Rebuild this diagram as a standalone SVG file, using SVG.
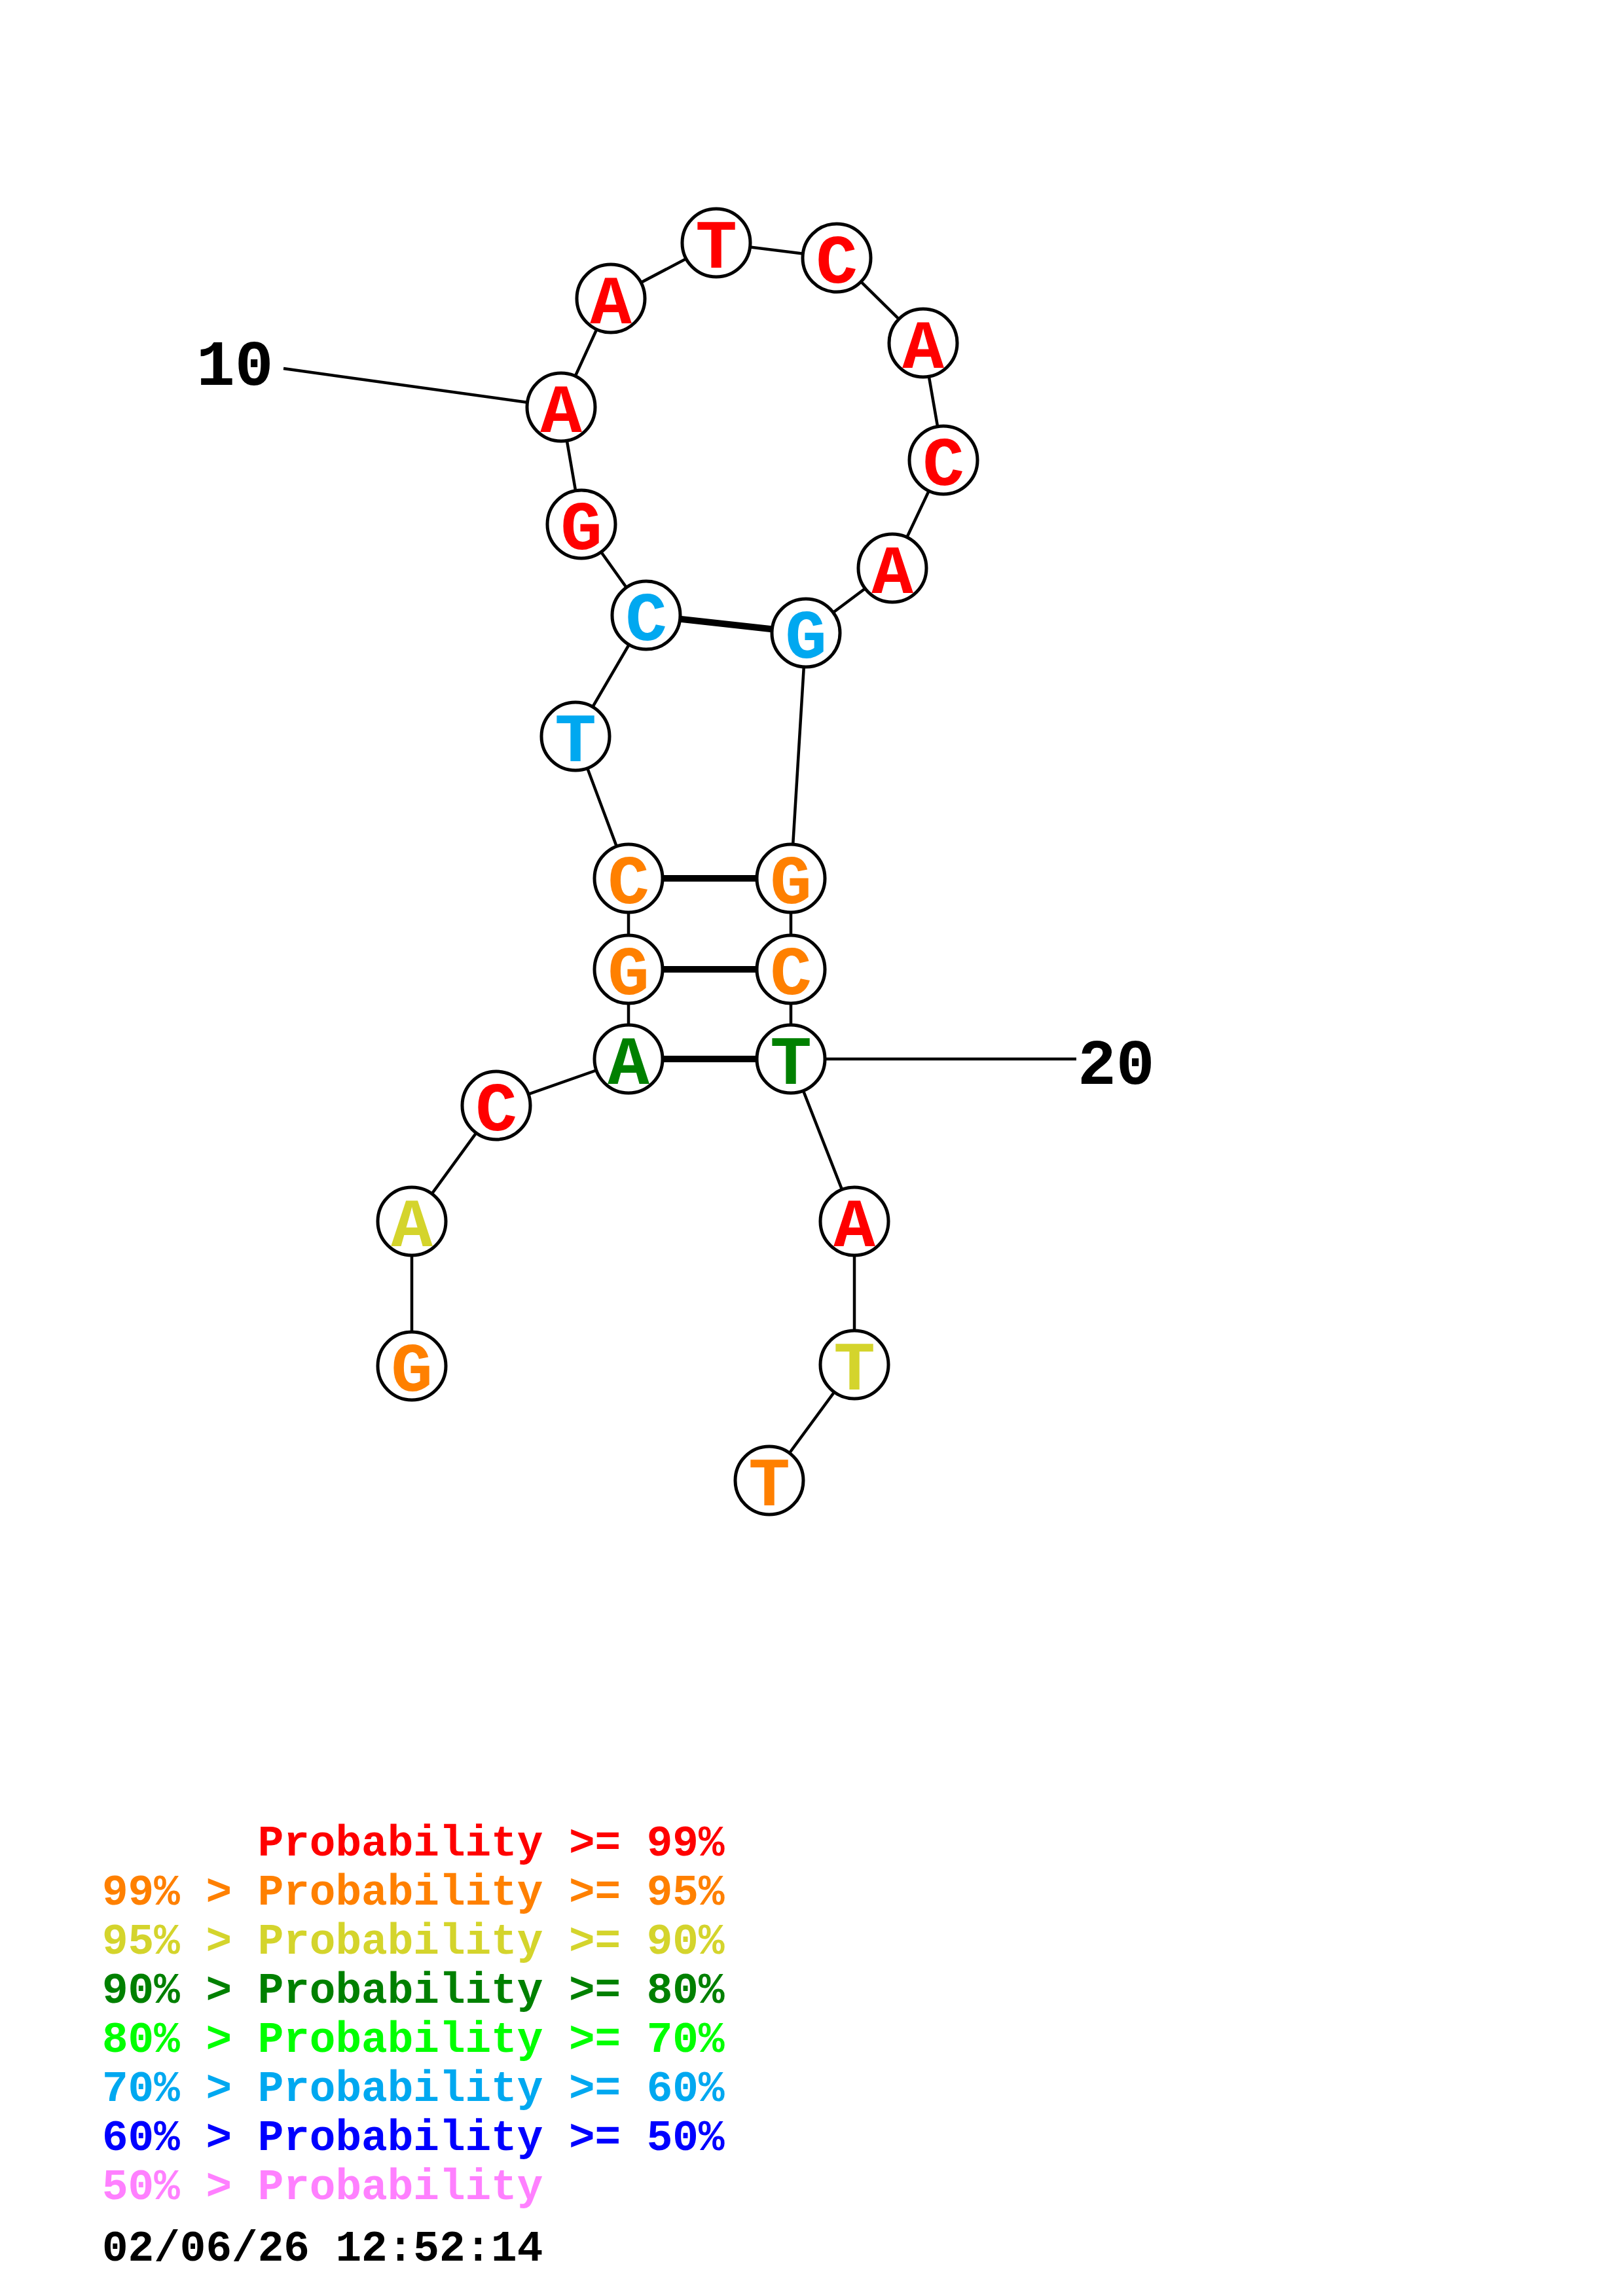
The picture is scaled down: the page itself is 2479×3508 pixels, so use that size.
<svg xmlns="http://www.w3.org/2000/svg" width="2479" height="3508" viewBox="0 0 2479 3508">
<style>
.bb{stroke:#000;stroke-width:4.5;fill:none}
.bp{stroke:#000;stroke-width:10;fill:none}
.n{fill:#fff;stroke:#000;stroke-width:5}
.l{font-family:"Liberation Mono","Courier New",monospace;font-weight:bold;font-size:106px;text-anchor:middle}
.num{font-family:"Liberation Mono","Courier New",monospace;font-weight:bold;font-size:98px;fill:#000}
.lg{font-family:"Liberation Mono","Courier New",monospace;font-weight:bold;font-size:66px;white-space:pre}
.r{fill:#ff0000}.o{fill:#ff8000}.y{fill:#d4d42c}.g{fill:#008000}.lb{fill:#00a8f0}.gb{fill:#00ff00}.b{fill:#0000ff}.p{fill:#ff80ff}
</style>
<rect width="2479" height="3508" fill="#fff"/>
<g id="connectors">
<polyline class="bb" points="629,2087 629,1866 758,1689 960,1618 960,1481 960,1342 879,1125 987,940 888,801 857,622 933,456 1094,371 1278,394 1410,524 1441,703 1363,868 1231,967 1208,1342 1208,1481 1208,1618 1305,1866 1305,2085 1175,2262"/>
<line class="bp" x1="987" y1="940" x2="1231" y2="967"/>
<line class="bp" x1="960" y1="1342" x2="1208" y2="1342"/>
<line class="bp" x1="960" y1="1481" x2="1208" y2="1481"/>
<line class="bp" x1="960" y1="1618" x2="1208" y2="1618"/>
<line class="bb" x1="433" y1="563" x2="857" y2="622"/>
<line class="bb" x1="1208" y1="1618" x2="1644" y2="1618"/>
</g>
<g id="labels">
<text class="num" x="300" y="588">10</text>
<text class="num" x="1646" y="1656">20</text>
</g>
<g id="n1"><circle class="n" cx="629" cy="2087" r="52"/><text class="l o" x="629" y="2125">G</text></g>
<g id="n2"><circle class="n" cx="629" cy="1866" r="52"/><text class="l y" x="629" y="1904">A</text></g>
<g id="n3"><circle class="n" cx="758" cy="1689" r="52"/><text class="l r" x="758" y="1727">C</text></g>
<g id="n4"><circle class="n" cx="960" cy="1618" r="52"/><text class="l g" x="960" y="1656">A</text></g>
<g id="n5"><circle class="n" cx="960" cy="1481" r="52"/><text class="l o" x="960" y="1519">G</text></g>
<g id="n6"><circle class="n" cx="960" cy="1342" r="52"/><text class="l o" x="960" y="1380">C</text></g>
<g id="n7"><circle class="n" cx="879" cy="1125" r="52"/><text class="l lb" x="879" y="1163">T</text></g>
<g id="n8"><circle class="n" cx="987" cy="940" r="52"/><text class="l lb" x="987" y="978">C</text></g>
<g id="n9"><circle class="n" cx="888" cy="801" r="52"/><text class="l r" x="888" y="839">G</text></g>
<g id="n10"><circle class="n" cx="857" cy="622" r="52"/><text class="l r" x="857" y="660">A</text></g>
<g id="n11"><circle class="n" cx="933" cy="456" r="52"/><text class="l r" x="933" y="494">A</text></g>
<g id="n12"><circle class="n" cx="1094" cy="371" r="52"/><text class="l r" x="1094" y="409">T</text></g>
<g id="n13"><circle class="n" cx="1278" cy="394" r="52"/><text class="l r" x="1278" y="432">C</text></g>
<g id="n14"><circle class="n" cx="1410" cy="524" r="52"/><text class="l r" x="1410" y="562">A</text></g>
<g id="n15"><circle class="n" cx="1441" cy="703" r="52"/><text class="l r" x="1441" y="741">C</text></g>
<g id="n16"><circle class="n" cx="1363" cy="868" r="52"/><text class="l r" x="1363" y="906">A</text></g>
<g id="n17"><circle class="n" cx="1231" cy="967" r="52"/><text class="l lb" x="1231" y="1005">G</text></g>
<g id="n18"><circle class="n" cx="1208" cy="1342" r="52"/><text class="l o" x="1208" y="1380">G</text></g>
<g id="n19"><circle class="n" cx="1208" cy="1481" r="52"/><text class="l o" x="1208" y="1519">C</text></g>
<g id="n20"><circle class="n" cx="1208" cy="1618" r="52"/><text class="l g" x="1208" y="1656">T</text></g>
<g id="n21"><circle class="n" cx="1305" cy="1866" r="52"/><text class="l r" x="1305" y="1904">A</text></g>
<g id="n22"><circle class="n" cx="1305" cy="2085" r="52"/><text class="l y" x="1305" y="2123">T</text></g>
<g id="n23"><circle class="n" cx="1175" cy="2262" r="52"/><text class="l o" x="1175" y="2300">T</text></g>
<g id="legend">
<text class="lg r" x="156" y="2835">      Probability &gt;= 99%</text>
<text class="lg o" x="156" y="2910">99% &gt; Probability &gt;= 95%</text>
<text class="lg y" x="156" y="2985">95% &gt; Probability &gt;= 90%</text>
<text class="lg g" x="156" y="3060">90% &gt; Probability &gt;= 80%</text>
<text class="lg gb" x="156" y="3135">80% &gt; Probability &gt;= 70%</text>
<text class="lg lb" x="156" y="3210">70% &gt; Probability &gt;= 60%</text>
<text class="lg b" x="156" y="3285">60% &gt; Probability &gt;= 50%</text>
<text class="lg p" x="156" y="3360">50% &gt; Probability</text>
<text class="lg" x="156" y="3454" fill="#000">02/06/26 12:52:14</text>
</g>
</svg>
